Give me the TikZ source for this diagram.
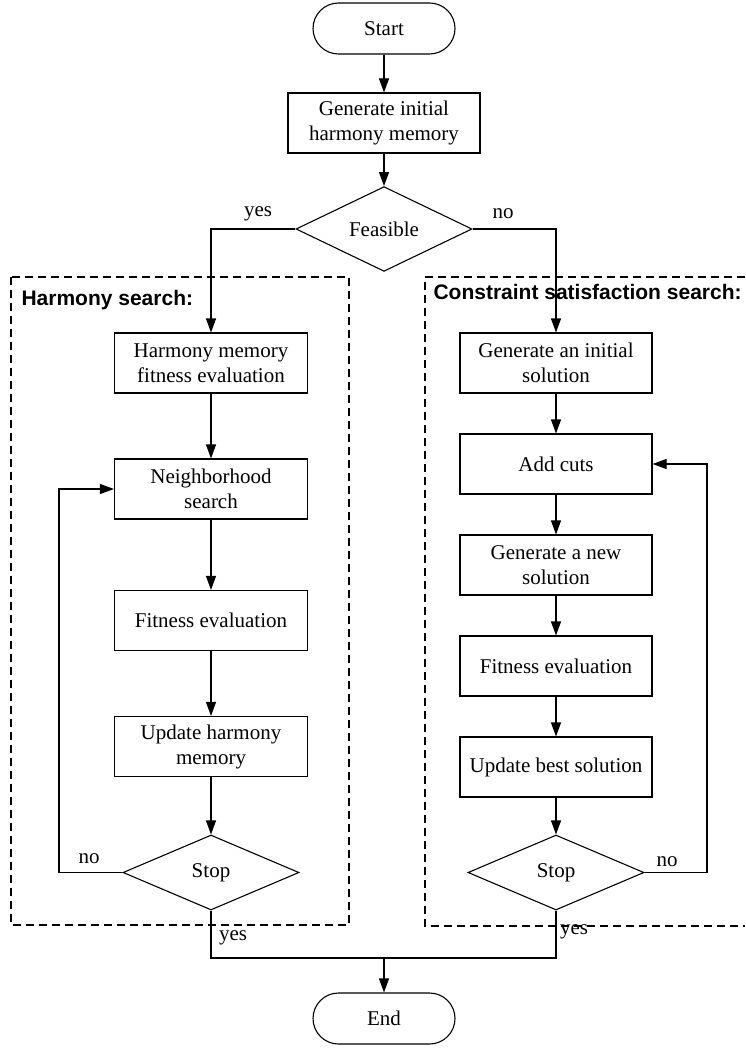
\documentclass[tikz,border=0pt]{standalone}
\usepackage{fontspec}
\setmainfont{Liberation Serif}
\setsansfont{Liberation Sans}
\usetikzlibrary{shapes.geometric,arrows.meta}
\begin{document}
\begin{tikzpicture}[x=1pt,y=-1pt,
  line width=1.1pt,
  every node/.style={font=\fontsize{21}{25}\selectfont},
  stepbox/.style={draw, rectangle, minimum width=193pt, minimum height=60pt,
    inner sep=0pt, align=center},
  terminal/.style={draw, rectangle, rounded corners=25.5pt, minimum width=142pt,
    minimum height=51pt, inner sep=0pt},
  decision/.style={draw, diamond, minimum width=176pt, minimum height=76pt,
    inner sep=0pt},
  arr/.style={-{Triangle[length=14pt,width=10pt]}},
  region/.style={dash pattern=on 8pt off 5pt, line width=1.1pt},
  heading/.style={font=\fontsize{21}{25}\selectfont\sffamily\bfseries, anchor=west, inner sep=0pt},
  lab/.style={inner sep=0pt}
]
\useasboundingbox (0,0) rectangle (745,1048);

% dashed regions
\draw[region] (11,277) rectangle (349,925);
\draw[region] (745,277) -- (425,277) -- (425,926) -- (745,926);
\node[heading] (hshead) at (21,300) {Harmony search:};
\node[heading] (cshead) at (433,292) {Constraint satisfaction search:};

% main column
\node[terminal] (start) at (384,28.5) {Start};
\node[stepbox, minimum width=192pt] (init) at (384,123) {Generate initial\\harmony memory};
\node[decision] (feas) at (384,229) {Feasible};

% harmony search column
\node[stepbox] (hm) at (211,363) {Harmony memory\\fitness evaluation};
\node[stepbox] (ns) at (211,489) {Neighborhood\\search};
\node[stepbox] (fit1) at (211,620.5) {Fitness evaluation};
\node[stepbox] (uhm) at (211,746.5) {Update harmony\\memory};
\node[decision, minimum height=75pt] (stop1) at (211,872.5) {Stop};

% constraint satisfaction column
\node[stepbox, minimum width=192pt] (isol) at (556,363) {Generate an initial\\solution};
\node[stepbox, minimum width=192pt] (cuts) at (556,464) {Add cuts};
\node[stepbox, minimum width=192pt] (gnew) at (556,565) {Generate a new\\solution};
\node[stepbox, minimum width=192pt] (fit2) at (556,666) {Fitness evaluation};
\node[stepbox, minimum width=192pt] (ubest) at (556,767) {Update best solution};
\node[decision, minimum height=75pt] (stop2) at (556,872.5) {Stop};

\node[terminal] (end) at (384,1018.5) {End};

% loop-back and merge points
\coordinate (loopL) at (59,872.5);
\coordinate (loopR) at (707,872.5);
\coordinate (merge) at (384,958);

% connectors
\draw[arr] (start) -- (init);
\draw[arr] (init) -- (feas);
\draw[arr] (feas.west) -| (hm.north);
\draw[arr] (feas.east) -| (isol.north);

\draw[arr] (hm) -- (ns);
\draw[arr] (ns) -- (fit1);
\draw[arr] (fit1) -- (uhm);
\draw[arr] (uhm) -- (stop1);
\draw[arr] (stop1.west) -- (loopL) |- (ns.west);

\draw[arr] (isol) -- (cuts);
\draw[arr] (cuts) -- (gnew);
\draw[arr] (gnew) -- (fit2);
\draw[arr] (fit2) -- (ubest);
\draw[arr] (ubest) -- (stop2);
\draw[arr] (stop2.east) -- (loopR) |- (cuts.east);

\draw (stop1.south) |- (merge);
\draw (stop2.south) |- (merge);
\draw[arr] (merge) -- (end);

% branch labels
\node[lab] (lyes1) at (258,214) {yes};
\node[lab] (lno1) at (503,214) {no};
\node[lab] (lno2) at (89,859) {no};
\node[lab] (lno3) at (667,862) {no};
\node[lab] (lyes2) at (233,938) {yes};
\node[lab] (lyes3) at (574,932) {yes};
\end{tikzpicture}
\end{document}
